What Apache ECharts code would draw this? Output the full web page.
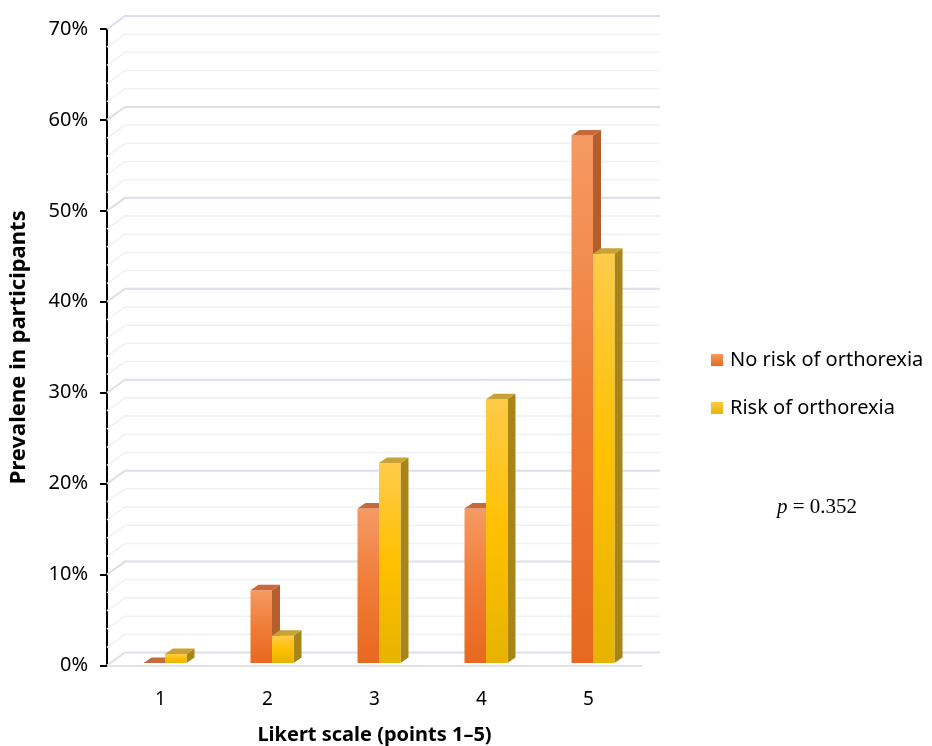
<!DOCTYPE html>
<html>
<head>
<meta charset="utf-8">
<script src="https://cdn.jsdelivr.net/npm/echarts@6/dist/echarts.min.js"></script>
<style>
  html, body { margin: 0; padding: 0; background: #fff; }
  #chart { width: 932px; height: 746px; }
</style>
</head>
<body>
<div id="chart"></div>
<script>
// Likert scale answers (points 1–5)
const categories = ['1', '2', '3', '4', '5'];
// Share of participants (%) per answer
const noRisk = [0, 8, 17, 17, 58];
const risk = [1, 3, 22, 29, 45];
const seriesNames = ['No risk of orthorexia', 'Risk of orthorexia'];
// Value axis range and wall gridline step
const yMin = 0, yMax = 70, yStep = 10, wallStep = 2;

const DEPTH_X = 18, DEPTH_Y = 13;       // back-wall offset
const BAR_W = 21.5, BAR_DX = 8, BAR_DY = 5.5, BAR_SHIFT_X = 4.5, BAR_SHIFT_Y = 2.5;

const palettes = [
  { front: ['#F59A63', '#F07C38', '#E8681F'], side: '#B45E2E', top: '#C6693B' },
  { front: ['#FFCB4A', '#FFC000', '#E6B300'], side: '#A98518', top: '#C9A236' }
];

const wallValues = [];
for (let v = yMin; v <= yMax; v += wallStep) wallValues.push(v);

function wallItem(params, api) {
  const cs = params.coordSys;
  const v = api.value(0);
  const y = api.coord([0, v])[1];
  const major = v % yStep === 0;
  return {
    type: 'polyline',
    shape: { points: [[cs.x, y], [cs.x + DEPTH_X, y - DEPTH_Y], [cs.x + cs.width + DEPTH_X, y - DEPTH_Y]] },
    style: { stroke: major ? '#DCDFE9' : '#EFF1F6', lineWidth: major ? 2 : 1.5, fill: null },
    silent: true
  };
}

function barItem(side) {
  const pal = palettes[side];
  return function (params, api) {
    const cat = api.value(0);
    const val = api.value(1);
    const base = api.coord([cat, 0]);
    const topPt = api.coord([cat, val]);
    const cx = base[0] + BAR_SHIFT_X;
    const x0 = side === 0 ? cx - BAR_W : cx;
    const x1 = x0 + BAR_W;
    const yb = base[1] - BAR_SHIFT_Y;
    const yt = topPt[1] - BAR_SHIFT_Y;
    const children = [];
    if (yb - yt > 0.5) {
      children.push({
        type: 'polygon',
        shape: { points: [[x1, yt], [x1 + BAR_DX, yt - BAR_DY], [x1 + BAR_DX, yb - BAR_DY], [x1, yb]] },
        style: { fill: pal.side }
      });
      children.push({
        type: 'rect',
        shape: { x: x0, y: yt, width: BAR_W, height: yb - yt },
        style: {
          fill: new echarts.graphic.LinearGradient(0, 0, 0, 1, [
            { offset: 0, color: pal.front[0] },
            { offset: 0.5, color: pal.front[1] },
            { offset: 1, color: pal.front[2] }
          ])
        }
      });
    }
    children.push({
      type: 'polygon',
      shape: { points: [[x0, yt], [x0 + BAR_DX, yt - BAR_DY], [x1 + BAR_DX, yt - BAR_DY], [x1, yt]] },
      style: { fill: pal.top }
    });
    return { type: 'group', children: children };
  };
}

const chart = echarts.init(document.getElementById('chart'), null, { renderer: 'canvas' });

const legendColor = i => new echarts.graphic.LinearGradient(0, 0, 0, 1, [
  { offset: 0, color: palettes[i].front[0] },
  { offset: 1, color: palettes[i].front[2] }
]);

chart.setOption({
  animation: false,
  backgroundColor: '#ffffff',
  textStyle: { fontFamily: 'Noto Sans' },
  grid: { left: 107, top: 29, right: 290, bottom: 80.5, containLabel: false, outerBoundsMode: 'none' },
  legend: {
    orient: 'vertical',
    left: 706,
    top: 344,
    itemWidth: 12,
    itemHeight: 12,
    itemGap: 26,
    icon: 'rect',
    textStyle: { fontSize: 20, lineHeight: 22, color: '#000', fontFamily: 'Noto Sans', padding: [0, 0, 0, 2] },
    data: seriesNames
  },
  xAxis: {
    type: 'category',
    data: categories,
    name: 'Likert scale (points 1–5)',
    nameLocation: 'middle',
    nameGap: 60,
    nameTextStyle: { fontSize: 20, fontWeight: 'bold', color: '#000', fontFamily: 'Noto Sans' },
    axisLine: { lineStyle: { color: '#D9D9D9', width: 1.5 } },
    axisTick: { show: false },
    axisLabel: { fontSize: 19, color: '#000', margin: 25 },
    splitLine: { show: false }
  },
  yAxis: {
    type: 'value',
    min: yMin,
    max: yMax,
    interval: yStep,
    name: 'Prevalene in participants',
    nameLocation: 'middle',
    nameGap: 77,
    nameTextStyle: { fontSize: 22, fontWeight: 'bold', color: '#000', fontFamily: 'Noto Sans' },
    axisLine: { show: true, lineStyle: { color: '#000', width: 2 } },
    axisTick: { show: true, length: 7, lineStyle: { color: '#000', width: 2 } },
    axisLabel: { formatter: '{value}%', fontSize: 20, color: '#000', margin: 19 },
    splitLine: { show: false }
  },
  series: [
    {
      type: 'custom',
      name: 'wall',
      renderItem: wallItem,
      data: wallValues.map(v => [v]),
      encode: { y: 0 },
      silent: true,
      z: 1,
      clip: false
    },
    {
      type: 'custom',
      name: seriesNames[0],
      renderItem: barItem(0),
      itemStyle: { color: legendColor(0) },
      data: noRisk.map((v, i) => [i, v]),
      encode: { x: 0, y: 1 },
      z: 5,
      clip: false
    },
    {
      type: 'custom',
      name: seriesNames[1],
      renderItem: barItem(1),
      itemStyle: { color: legendColor(1) },
      data: risk.map((v, i) => [i, v]),
      encode: { x: 0, y: 1 },
      z: 5,
      clip: false
    }
  ],
  graphic: [
    {
      type: 'text',
      left: 777,
      top: 497,
      style: {
        text: '{i|p} = 0.352',
        rich: {
          i: { fontFamily: 'Liberation Serif', fontStyle: 'italic', fontSize: 21, fill: '#000' }
        },
        fontFamily: 'Liberation Serif',
        fontSize: 21,
        fill: '#000'
      }
    }
  ]
});
</script>
</body>
</html>
